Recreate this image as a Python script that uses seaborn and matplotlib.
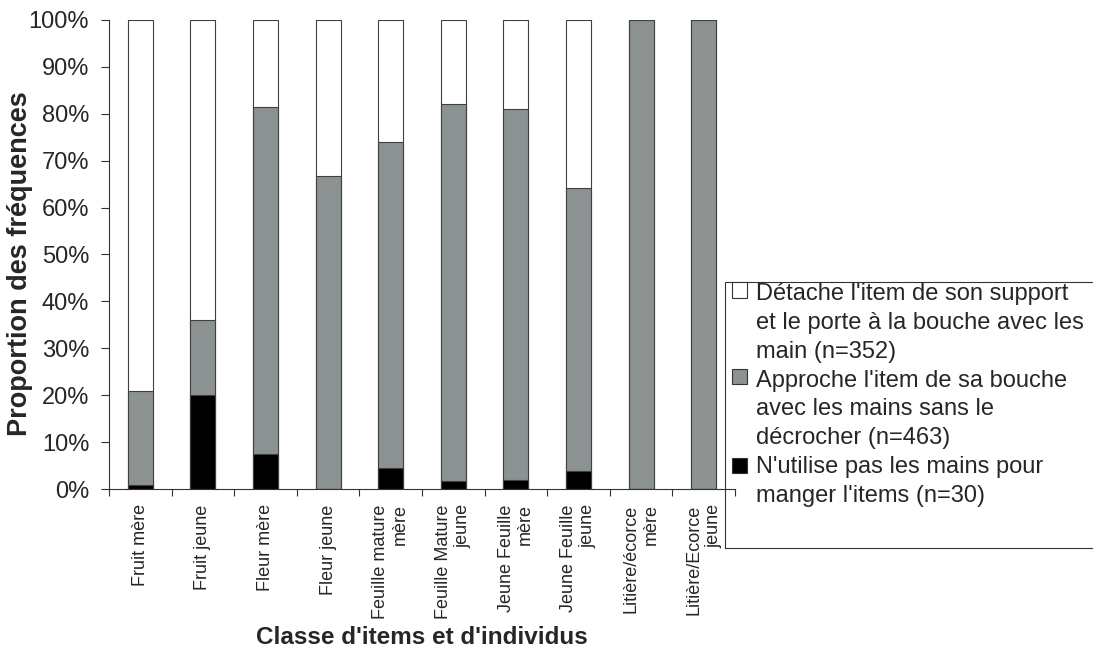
import numpy as np
import pandas as pd
import seaborn as sns
import matplotlib.pyplot as plt
import matplotlib.patches as mpatches
from matplotlib.legend_handler import HandlerPatch
from matplotlib.ticker import PercentFormatter, FixedLocator

# Données (proportions en %)
classes = ["Fruit mère", "Fruit jeune", "Fleur mère", "Fleur jeune",
           "Feuille mature\nmère", "Feuille Mature\njeune", "Jeune Feuille\nmère",
           "Jeune Feuille\njeune", "Litière/écorce\nmère", "Litière/Ecorce\njeune"]
sans_mains = [0.8, 20.0, 7.5, 0.0, 4.5, 1.8, 2.0, 3.8, 0.0, 0.0]
approche = [20.0, 16.0, 74.0, 66.7, 69.5, 80.2, 79.0, 60.4, 100.0, 100.0]
detache = [79.2, 64.0, 18.5, 33.3, 26.0, 18.0, 19.0, 35.8, 0.0, 0.0]

legende = ["Détache l'item de son support\net le porte à la bouche avec les\nmain (n=352)",
           "Approche l'item de sa bouche\navec les mains sans le\ndécrocher (n=463)",
           "N'utilise pas les mains pour\nmanger l'items (n=30)"]

df = pd.DataFrame({"classe": classes, "noir": sans_mains,
                   "gris": np.array(sans_mains) + np.array(approche),
                   "blanc": np.array(sans_mains) + np.array(approche) + np.array(detache)})

W, H = 1093, 652
GRIS = "#8c9191"
BORD = "#333333"
INTERLIGNE = 1.4

sns.set_style("white")
plt.rcParams['font.family'] = ['Liberation Sans', 'DejaVu Sans']

fig = plt.figure(figsize=(W / 100, H / 100), dpi=100)
ax = fig.add_axes([109 / W, 1 - 489 / H, (735 - 109) / W, (489 - 20) / H])

couleurs = {"blanc": "white", "gris": GRIS, "noir": "black"}
for col in ["blanc", "gris", "noir"]:
    sns.barplot(data=df, x="classe", y=col, color=couleurs[col], width=0.4,
                edgecolor="#404040", linewidth=0.8, saturation=1, ax=ax)

ax.set_xlim(-0.5, len(classes) - 0.5)
ax.set_ylim(0, 100)
ax.set_yticks(np.arange(0, 101, 10))
ax.yaxis.set_major_formatter(PercentFormatter(decimals=0))
ax.tick_params(axis="y", labelsize=17, length=5.8, width=0.8, pad=8.5,
               left=True, direction="out", color=BORD)
ax.tick_params(axis="x", which="major", labelsize=13, length=0, pad=11)
ax.xaxis.set_minor_locator(FixedLocator(np.arange(-0.5, len(classes), 1)))
ax.tick_params(axis="x", which="minor", length=5, width=0.8, bottom=True,
               direction="out", color=BORD)
for lab in ax.get_xticklabels():
    lab.set_rotation(90)
    lab.set_ha("center")
    lab.set_va("top")
    lab.set_multialignment("right")

for s in ["top", "right"]:
    ax.spines[s].set_visible(False)
for s in ["left", "bottom"]:
    ax.spines[s].set_color(BORD)
    ax.spines[s].set_linewidth(0.8)

ax.set_ylabel("Proportion des fréquences", fontsize=19.5, fontweight="bold")
ax.yaxis.set_label_coords(-0.122, (489 - 264) / (489 - 20))
ax.set_xlabel("Classe d'items et d'individus", fontsize=17.5, fontweight="bold", va="top")
ax.xaxis.set_label_coords(0.5, -(626 - 489) / (489 - 20))


# carré de légende aligné sur la première ligne du libellé
def carre(nlignes):
    def f(legend, orig_handle, xdescent, ydescent, width, height, fontsize):
        dy = 0.5 * INTERLIGNE * fontsize * (nlignes - 1)
        return mpatches.Rectangle((-xdescent, -ydescent + dy), width, height)
    return HandlerPatch(patch_func=f)


handles = [mpatches.Patch(facecolor=c, edgecolor=BORD, linewidth=0.8)
           for c in ["white", GRIS, "black"]]
hmap = {h: carre(lab.count("\n") + 1) for h, lab in zip(handles, legende)}
leg = fig.legend(handles, legende, handler_map=hmap, loc="upper left",
                 bbox_to_anchor=(732 / W, 1 - 283 / H), fontsize=17,
                 frameon=False, handlelength=0.62, handleheight=0.62,
                 handletextpad=0.38, borderpad=0, borderaxespad=0,
                 labelspacing=0.3)
plt.setp(leg.get_texts(), linespacing=INTERLIGNE)
fig.add_artist(mpatches.Rectangle((725 / W, 1 - 548 / H), (W + 10 - 725) / W, (548 - 282) / H,
                                  transform=fig.transFigure, facecolor="none",
                                  edgecolor=BORD, linewidth=0.8, clip_on=False))

fig.savefig("out.png", dpi=100)
